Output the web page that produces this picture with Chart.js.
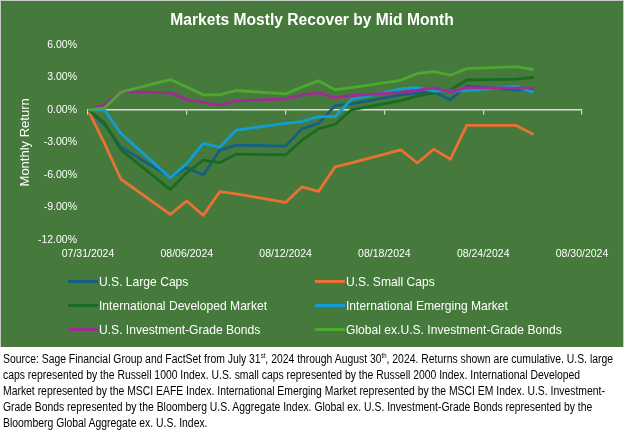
<!DOCTYPE html>
<html>
<head>
<meta charset="utf-8">
<script src="https://cdn.jsdelivr.net/npm/chart.js@4.4.1/dist/chart.umd.min.js"></script>
<style>
  html, body { margin: 0; padding: 0; background: #ffffff; width: 624px; height: 430px; overflow: hidden; }
  #panel { position: absolute; left: 0; top: 0; width: 624px; height: 347px; background: #467A3C; box-sizing: border-box; border: 1px solid #C9C9C9; border-bottom: none; }
  #chartWrap { position: absolute; left: 0; top: 0; width: 624px; height: 270px; }
  #legend { position: absolute; left: 0; top: 0; width: 624px; height: 347px; font-family: "Liberation Sans", Arial, sans-serif; font-size: 13px; color: #ffffff; pointer-events: none; }
  .li { position: absolute; height: 16px; line-height: 16px; white-space: nowrap; }
  .li .sw { display: inline-block; width: 30px; height: 3px; vertical-align: middle; position: relative; top: -1px; }
  .li .tx { display: inline-block; transform: scaleX(0.93); transform-origin: 0 50%; margin-left: 1px; }
  #note { position: absolute; left: 3px; top: 351px; font-family: "Liberation Sans", Arial, sans-serif; font-size: 12px; line-height: 16px; color: #000000; white-space: nowrap; transform-origin: 0 0; }
  #note div { white-space: nowrap; height: 16px; }
  #note span.l1 { display: inline-block; }
  #note sup { font-size: 7px; line-height: 0; vertical-align: 5px; }
</style>
</head>
<body>
<div id="panel"></div>
<div id="chartWrap"><canvas id="c" width="624" height="270"></canvas></div>
<div id="legend"></div>
<div id="note">
<div><span class="l1" id="line1">Source: Sage Financial Group and FactSet from July 31<sup>st</sup>, 2024 through August 30<sup>th</sup>, 2024. Returns shown are cumulative. U.S. large</span></div>
<div>caps represented by the Russell 1000 Index. U.S. small caps represented by the Russell 2000 Index. International Developed</div>
<div>Market represented by the MSCI EAFE Index. International Emerging Market represented by the MSCI EM Index. U.S. Investment-</div>
<div>Grade Bonds represented by the Bloomberg U.S. Aggregate Index. Global ex. U.S. Investment-Grade Bonds represented by the</div>
<div>Bloomberg Global Aggregate ex. U.S. Index.</div>
</div>
<script>
// ---- data ----
const dates = ['2024-07-31','2024-08-01','2024-08-02','2024-08-05','2024-08-06','2024-08-07','2024-08-08','2024-08-09',
  '2024-08-12','2024-08-13','2024-08-14','2024-08-15','2024-08-16','2024-08-19','2024-08-20','2024-08-21','2024-08-22',
  '2024-08-23','2024-08-26','2024-08-27'];
const tickLabels = ['07/31/2024','08/06/2024','08/12/2024','08/18/2024','08/24/2024','08/30/2024'];
const yTicks = [6, 3, 0, -3, -6, -9, -12];
const seriesNames = ['U.S. Large Caps','U.S. Small Caps','International Developed Market','International Emerging Market',
  'U.S. Investment-Grade Bonds','Global ex.U.S. Investment-Grade Bonds'];
const seriesColors = ['#156082','#E97132','#196B24','#0F9ED5','#A02B93','#4EA72E'];
const largeCaps   = [0, -1.34, -3.45, -6.20, -5.35, -6.00, -3.72, -3.25, -3.35, -1.75, -1.25, 0.38, 0.54, 1.38, 1.55, 1.69, 0.91, 2.19, 1.85, 1.94];
const smallCaps   = [0, -3.10, -6.40, -9.63, -8.40, -9.73, -7.55, -7.75, -8.54, -7.10, -7.52, -5.26, -4.90, -3.69, -4.90, -3.62, -4.56, -1.44, -1.44, -2.22];
const intlDev     = [0, -1.18, -3.69, -7.35, -5.80, -4.63, -4.88, -4.08, -4.16, -2.80, -1.75, -1.34, 0.00, 0.85, 1.28, 1.55, 1.82, 2.75, 2.82, 2.98];
const emerging    = [0, 0.00, -2.19, -6.27, -4.94, -3.10, -3.45, -1.88, -1.25, -1.08, -0.62, -0.62, 0.95, 1.94, 2.04, 1.72, 1.72, 1.78, 2.16, 1.63];
const usBonds     = [0, 0.44, 1.69, 1.57, 0.94, 0.69, 0.44, 0.82, 1.00, 1.38, 1.57, 1.13, 1.31, 1.60, 1.78, 2.02, 1.63, 2.04, 2.00, 2.00];
const globalBonds = [0, 0.16, 1.63, 2.79, 2.10, 1.38, 1.38, 1.78, 1.47, 2.10, 2.67, 1.85, 2.04, 2.72, 3.35, 3.51, 3.19, 3.80, 3.98, 3.73];
const seriesValues = [largeCaps, smallCaps, intlDev, emerging, usBonds, globalBonds];

// ---- helpers ----
const DAY = 86400000;
const t0 = Date.parse(dates[0] + 'T00:00:00Z');
const xs = dates.map(d => Math.round((Date.parse(d + 'T00:00:00Z') - t0) / DAY));
const FONT = '"Liberation Sans", Arial, sans-serif';

const datasets = seriesNames.map((name, i) => ({
  label: name,
  data: seriesValues[i].map((v, j) => ({ x: xs[j], y: v })),
  borderColor: seriesColors[i],
  backgroundColor: seriesColors[i],
  borderWidth: 2.8,
  pointRadius: 0,
  tension: 0,
  borderJoinStyle: 'round',
  borderCapStyle: 'round',
  order: seriesNames.length - 1 - i,
  xAxisID: 'x',
  yAxisID: 'y'
}));

const xTickBuild = s => { s.ticks = tickLabels.map((_, i) => ({ value: i * 6 })); };

new Chart(document.getElementById('c'), {
  type: 'line',
  data: { datasets },
  options: {
    responsive: false,
    devicePixelRatio: 1,
    animation: false,
    layout: { padding: { left: 0, right: 0, top: 0, bottom: 0 } },
    plugins: {
      legend: { display: false },
      tooltip: { enabled: false },
      title: {
        display: true,
        text: 'Markets Mostly Recover by Mid Month',
        color: '#ffffff',
        font: { family: FONT, size: 15.6, weight: 'bold' },
        padding: { top: 11, bottom: 15 }
      }
    },
    scales: {
      x: {
        type: 'linear',
        position: 'bottom',
        min: 0, max: 30,
        afterBuildTicks: xTickBuild,
        ticks: {
          color: '#ffffff',
          font: { family: FONT, size: 10.5 },
          padding: 8,
          maxRotation: 0,
          autoSkip: false,
          callback: (v, i) => tickLabels[i]
        },
        grid: { display: false, drawTicks: false },
        border: { display: false },
        afterFit: s => { s.height = 30; }
      },
      x0: {
        type: 'linear',
        position: { y: 0 },
        min: 0, max: 30,
        afterBuildTicks: xTickBuild,
        ticks: { display: false },
        grid: { display: true, drawOnChartArea: false, drawTicks: true, tickLength: 4, color: '#D9D9D9', lineWidth: 1.2 },
        border: { display: true, color: '#D9D9D9', width: 1.5 }
      },
      y: {
        min: -12, max: 6,
        afterBuildTicks: s => { s.ticks = yTicks.map(v => ({ value: v })); },
        ticks: {
          color: '#ffffff',
          font: { family: FONT, size: 10.5 },
          padding: 11,
          callback: v => v.toFixed(2) + '%'
        },
        grid: { display: false, drawTicks: false },
        border: { display: false },
        title: {
          display: true,
          text: 'Monthly Return',
          color: '#ffffff',
          font: { family: FONT, size: 13 },
          padding: { top: 18, bottom: 0 }
        },
        afterFit: s => { s.width = 88; }
      },
      yR: {
        position: 'right',
        min: -12, max: 6,
        ticks: { display: false },
        grid: { display: false, drawTicks: false },
        border: { display: false },
        afterFit: s => { s.width = 42; }
      }
    }
  }
});

// ---- legend (HTML, built from the series arrays) ----
const legend = document.getElementById('legend');
const colX = [68, 315];
const rowY = [282, 306, 330];
seriesNames.forEach((name, i) => {
  const el = document.createElement('div');
  el.className = 'li';
  el.style.left = colX[i % 2] + 'px';
  el.style.top = (rowY[Math.floor(i / 2)] - 8) + 'px';
  const sw = document.createElement('span');
  sw.className = 'sw';
  sw.style.background = seriesColors[i];
  const tx = document.createElement('span');
  tx.className = 'tx';
  tx.textContent = name;
  el.appendChild(sw);
  el.appendChild(tx);
  legend.appendChild(el);
});

// ---- fit the footnote to the reference width ----
const note = document.getElementById('note');
const w1 = document.getElementById('line1').getBoundingClientRect().width;
note.style.transform = 'scaleX(' + (610 / w1) + ')';
</script>
</body>
</html>
